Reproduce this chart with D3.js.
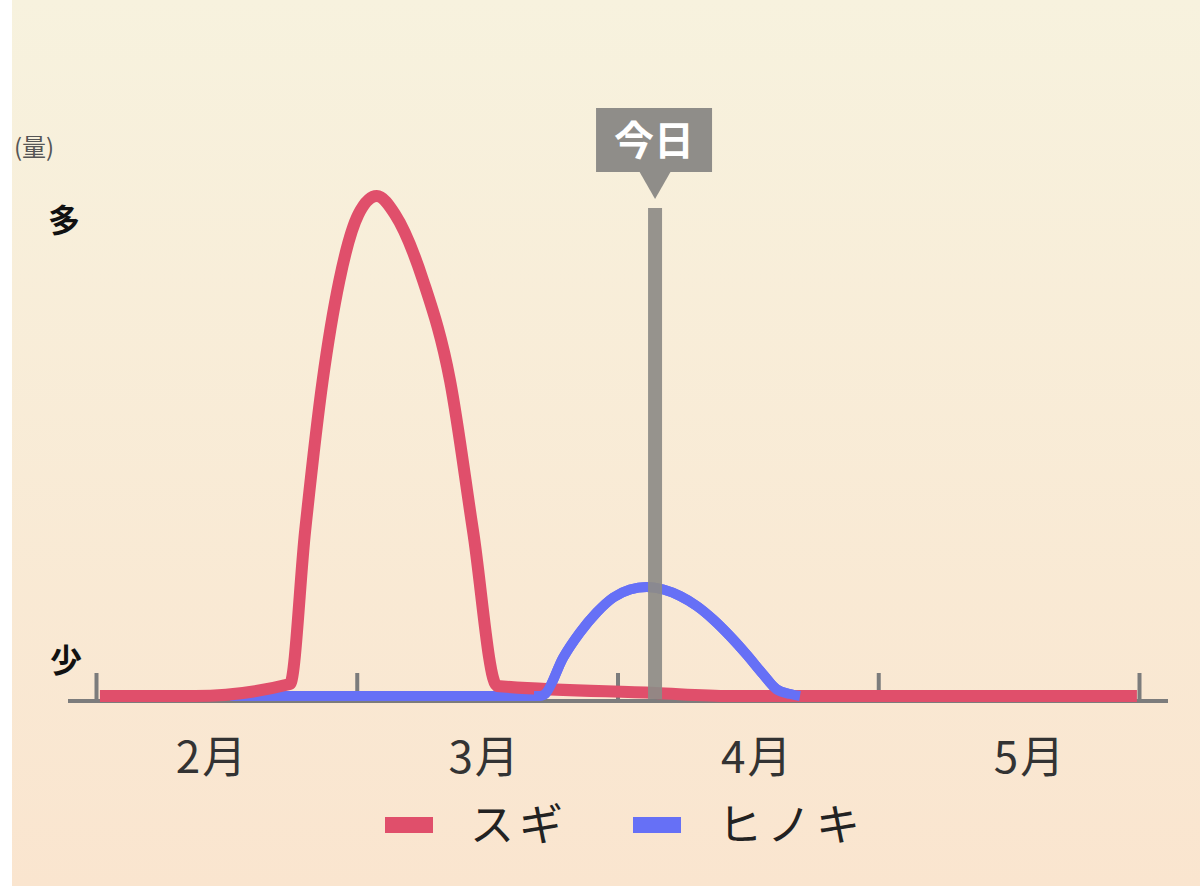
<!DOCTYPE html>
<html>
<head>
<meta charset="utf-8">
<script src="https://cdn.jsdelivr.net/npm/d3@7"></script>
<style>
  html, body { margin: 0; padding: 0; background: #fff; }
  svg { display: block; font-family: "Noto Sans CJK JP", "Noto Sans", sans-serif; }
</style>
</head>
<body>
<div id="chart"></div>
<script>
// months shown under the axis
const months = ["2月", "3月", "4月", "5月"]
// x in months from the first tick, y as relative amount (0 = 少, 100 = 多)
const sugiX = [0.015, 0.38, 0.744, 0.802, 0.869, 0.933, 1.006, 1.077, 1.147, 1.255, 1.358, 1.446, 1.538, 2.144, 2.431, 3.992]
const sugiY = [0, 0, 2.4, 33, 63, 83, 96.3, 100, 96.3, 83, 63, 33, 2, 0.6, 0, 0]
const hinokiX = [0.514, 1.703, 1.722, 1.792, 1.856, 1.92, 1.984, 2.048, 2.112, 2.176, 2.24, 2.304, 2.367, 2.431, 2.495, 2.559, 2.611, 2.662, 2.70]
const hinokiY = [0, 0, 0.4, 7.7, 12.7, 16.7, 19.7, 21.3, 21.8, 21.3, 20, 18, 15.3, 12, 8.3, 4.3, 1.3, 0.4, 0]
const today = 2.144
const series = [
  { name: "スギ", xs: sugiX, ys: sugiY, color: "#e04f6b", width: 12 },
  { name: "ヒノキ", xs: hinokiX, ys: hinokiY, color: "#6670f6", width: 10 }
]

const width = 1200
const height = 886

const svg = d3.select("#chart")
  .append("svg")
  .attr("width", width)
  .attr("height", height)

const defs = svg.append("defs")
const grad = defs.append("linearGradient")
  .attr("id", "bg")
  .attr("x1", 0).attr("y1", 0).attr("x2", 0).attr("y2", 1)
grad.append("stop").attr("offset", "0%").attr("stop-color", "#f7f2de")
grad.append("stop").attr("offset", "100%").attr("stop-color", "#fae5cf")

svg.append("rect")
  .attr("x", 12).attr("y", 0)
  .attr("width", width - 12).attr("height", height)
  .attr("fill", "url(#bg)")

const x = d3.scaleLinear().domain([0, 4]).range([96, 1139])
const y = d3.scaleLinear().domain([0, 100]).range([696, 196])
const labelX = d3.scalePoint().domain(months).range([212, 1030])

// axis ticks
const axis = d3.axisBottom(x)
  .tickValues([0, 1, 2, 3, 4])
  .tickSize(-28)
  .tickFormat("")

const axisG = svg.append("g")
  .attr("transform", "translate(0,701)")
  .call(axis)
axisG.select(".domain").remove()
axisG.selectAll(".tick line")
  .attr("stroke", "#7c7c7c")
  .attr("stroke-width", 4)

svg.append("line")
  .attr("x1", x.range()[0] - 28)
  .attr("x2", x.range()[1] + 29)
  .attr("y1", 701).attr("y2", 701)
  .attr("stroke", "#7c7c7c")
  .attr("stroke-width", 4)

svg.selectAll(".month")
  .data(months)
  .enter()
  .append("text")
  .attr("class", "month")
  .attr("x", d => labelX(d))
  .attr("y", 773)
  .attr("text-anchor", "middle")
  .attr("font-size", 44)
  .attr("letter-spacing", 2)
  .attr("fill", "#333")
  .text(d => d)

// pollen lines
const line = d3.line()
  .x(d => x(d[0]))
  .y(d => y(d[1]))
  .curve(d3.curveMonotoneX)

const pathOf = d => line(d.xs.map((v, i) => [v, d.ys[i]]))

// hinoki sits under sugi on the left, over it where its bump starts
defs.append("clipPath")
  .attr("id", "bump")
  .append("rect")
  .attr("x", x(1.68)).attr("y", 0)
  .attr("width", width).attr("height", height)

const drawOrder = [series[1], series[0]]
svg.selectAll(".series")
  .data(drawOrder)
  .enter()
  .append("path")
  .attr("class", "series")
  .attr("d", pathOf)
  .attr("fill", "none")
  .attr("stroke", d => d.color)
  .attr("stroke-width", d => d.width)
  .attr("stroke-linejoin", "round")

svg.append("path")
  .attr("d", pathOf(series[1]))
  .attr("clip-path", "url(#bump)")
  .attr("fill", "none")
  .attr("stroke", series[1].color)
  .attr("stroke-width", series[1].width)

// today marker
const tx = x(today)
svg.append("line")
  .attr("x1", tx).attr("x2", tx)
  .attr("y1", 208).attr("y2", 699)
  .attr("stroke", "#8d8b87")
  .attr("stroke-opacity", 0.92)
  .attr("stroke-width", 14)

svg.append("rect")
  .attr("x", tx - 59).attr("y", 108)
  .attr("width", 116).attr("height", 64)
  .attr("fill", "#8f8d89")
svg.append("path")
  .attr("d", `M${tx - 16},171 L${tx + 16},171 L${tx},199 Z`)
  .attr("fill", "#8f8d89")
svg.append("text")
  .attr("x", tx - 1).attr("y", 155)
  .attr("text-anchor", "middle")
  .attr("font-size", 40)
  .attr("font-weight", "bold")
  .attr("fill", "#fff")
  .text("今日")

// y labels
svg.append("text")
  .attr("x", 14).attr("y", 156)
  .attr("font-size", 24)
  .attr("fill", "#555")
  .text("(量)")
svg.append("text")
  .attr("x", 64).attr("y", 232)
  .attr("text-anchor", "middle")
  .attr("font-size", 32)
  .attr("font-weight", "bold")
  .attr("fill", "#111")
  .text("多")
svg.append("text")
  .attr("x", 66).attr("y", 672)
  .attr("text-anchor", "middle")
  .attr("font-size", 32)
  .attr("font-weight", "bold")
  .attr("fill", "#111")
  .text("少")

// legend
const legendX = [385, 633]
const lg = svg.selectAll(".legend")
  .data(series)
  .enter()
  .append("g")
  .attr("class", "legend")
  .attr("transform", (d, i) => `translate(${legendX[i]},825)`)

lg.append("rect")
  .attr("x", 0).attr("y", -8)
  .attr("width", 48).attr("height", 16)
  .attr("fill", d => d.color)

lg.append("text")
  .attr("x", 85).attr("y", 16)
  .attr("font-size", 44)
  .attr("letter-spacing", 5)
  .attr("fill", "#222")
  .text(d => d.name)
</script>
</body>
</html>
